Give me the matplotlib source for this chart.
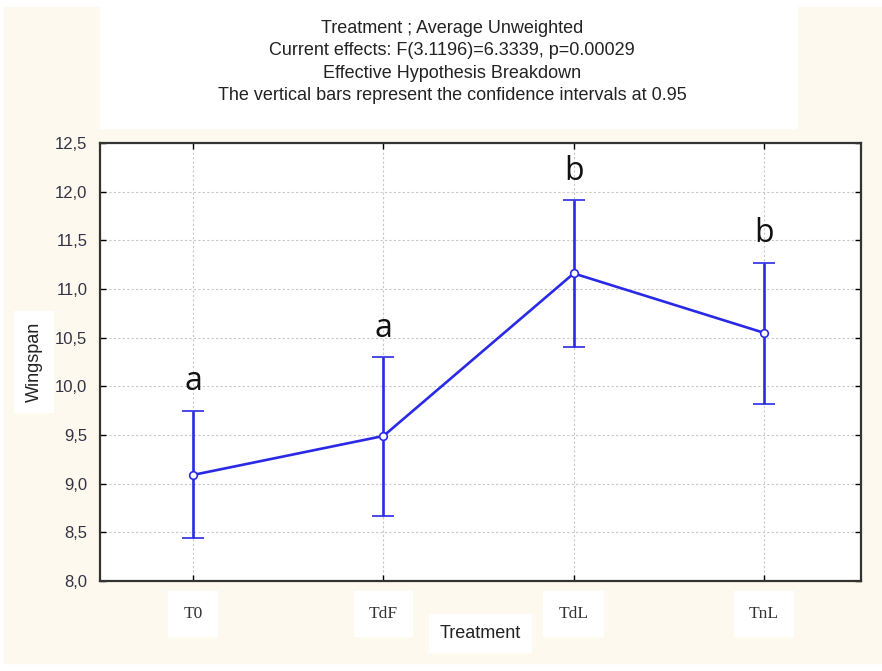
import numpy as np
import matplotlib.pyplot as plt
from matplotlib.patches import Rectangle
from matplotlib.ticker import FuncFormatter

treatments = ["T0", "TdF", "TdL", "TnL"]
means = [9.09, 9.49, 11.16, 10.55]
upper = [9.75, 10.30, 11.91, 11.27]
lower = [8.44, 8.67, 10.40, 9.82]
letters = ["a", "a", "b", "b"]

title = ("Treatment ; Average Unweighted\n"
         "Current effects: F(3.1196)=6.3339, p=0.00029\n"
         "Effective Hypothesis Breakdown\n"
         "The vertical bars represent the confidence intervals at 0.95")

blue = "#2a2ae6"
cream = "#fdf9ee"

fig = plt.figure(figsize=(8.82, 6.71), dpi=100)
fig.patch.set_facecolor("white")
W, H = 882, 671

def fr(x0, y0, x1, y1):
    # pixel box (top-left origin) -> figure fraction rect
    return (x0 / W, 1 - y1 / H, (x1 - x0) / W, (y1 - y0) / H)

x, y, w, h = fr(4, 7, 882, 663)
fig.patches.append(Rectangle((x, y), w, h, transform=fig.transFigure, color=cream, zorder=-10))
x, y, w, h = fr(100, 0, 797, 128)
fig.patches.append(Rectangle((x, y), w, h, transform=fig.transFigure, color="white", zorder=-9))

fig.text(452 / W, 1 - 62 / H, title, ha="center", va="center", fontsize=13,
         family="Liberation Sans", linespacing=1.42, color="#222222")

ax = fig.add_axes(fr(100, 143, 861, 581))
ax.set_facecolor("white")

xs = np.arange(len(treatments))
m = np.array(means)
yerr = [m - np.array(lower), np.array(upper) - m]
ax.errorbar(xs, m, yerr=yerr, color=blue, lw=1.9, capsize=8, capthick=1.9,
            marker="o", ms=5.5, mfc="white", mec=blue, mew=1.2, zorder=3)

for xi, up, lab in zip(xs, upper, letters):
    ax.annotate(lab, (xi, up), xytext=(0, 9), textcoords="offset points",
                ha="center", va="bottom", fontsize=23, family="Open Sans", color="#111111")

ax.set_xlim(-0.49, 3.51)
ax.set_ylim(8.0, 12.5)
ax.set_yticks(np.arange(8.0, 12.51, 0.5))
ax.set_xticks(xs)
ax.yaxis.set_major_formatter(FuncFormatter(lambda v, p: f"{v:.1f}".replace(".", ",")))
ax.set_xticklabels(treatments, family="Liberation Serif", fontsize=12.5, color="#333333")
for t in ax.get_xticklabels():
    t.set_bbox(dict(facecolor="white", edgecolor="none", pad=11))
for t in ax.get_yticklabels():
    t.set_family("Liberation Sans")
    t.set_fontsize(12)
    t.set_color("#333344")

ax.tick_params(direction="in", length=4, top=True, right=True, width=1)
ax.tick_params(axis="x", pad=18)
ax.tick_params(axis="y", pad=9)
ax.grid(True, color="#c8c8c8", ls=(0, (2, 2)), lw=0.8)
for s in ax.spines.values():
    s.set_linewidth(1.6)
    s.set_color("#333333")

ax.set_xlabel("Treatment", family="Liberation Sans", fontsize=13, color="#222222",
              labelpad=2, bbox=dict(facecolor="white", edgecolor="none", pad=8))
ax.set_ylabel("Wingspan", family="Liberation Sans", fontsize=13, color="#222222",
              labelpad=9, bbox=dict(facecolor="white", edgecolor="none", pad=8))

fig.savefig("out.png", dpi=100)
